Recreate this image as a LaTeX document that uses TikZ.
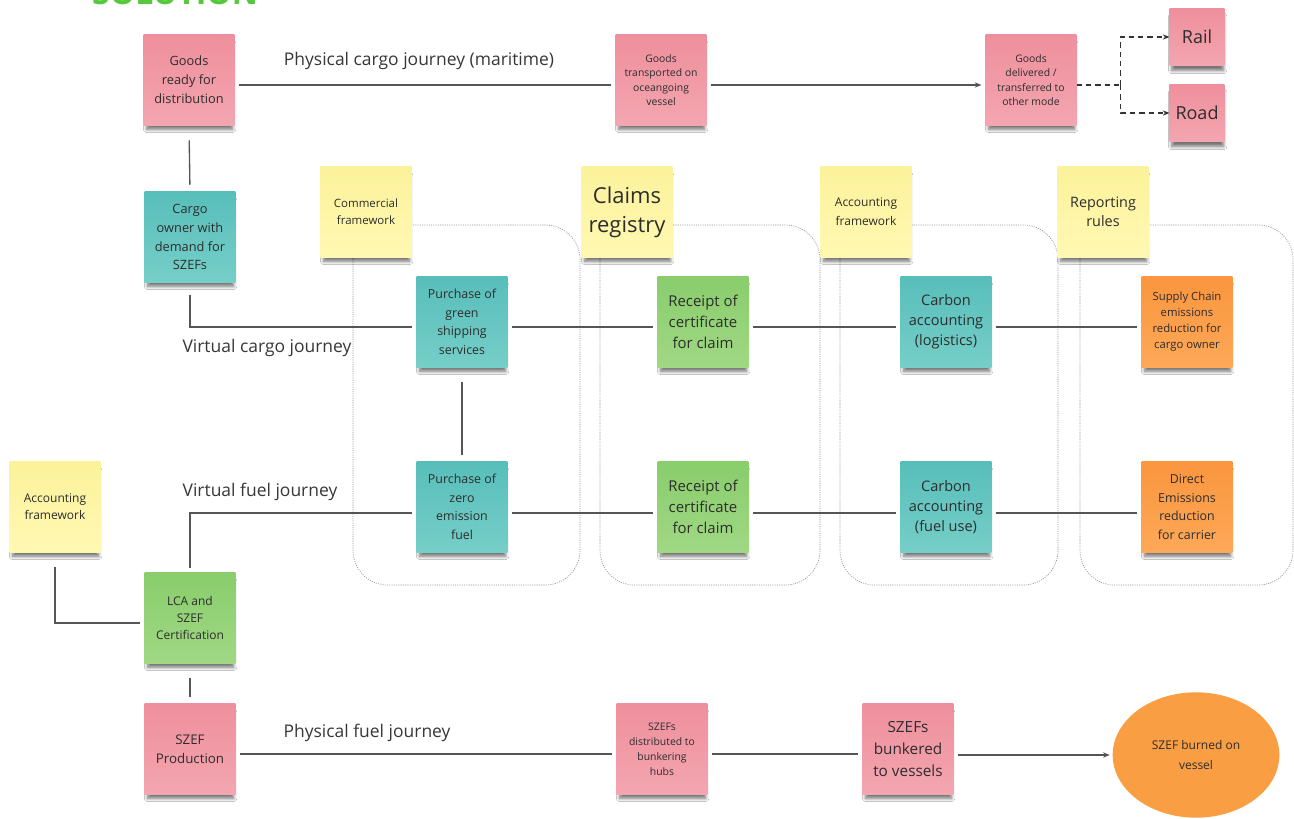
\documentclass[tikz,border=0pt]{standalone}
\usepackage{fontspec}
\setmainfont{Open Sans}
\usetikzlibrary{shadows,shadows.blur,arrows.meta,calc,shapes.geometric}
\definecolor{txt}{RGB}{45,45,45}
\definecolor{lbl}{RGB}{55,55,55}
\definecolor{lineC}{RGB}{85,85,85}
\definecolor{frameC}{RGB}{150,150,150}
\definecolor{pinkT}{RGB}{239,143,157}
\definecolor{pinkB}{RGB}{243,166,176}
\definecolor{tealT}{RGB}{88,190,186}
\definecolor{tealB}{RGB}{118,206,200}
\definecolor{yelT}{RGB}{252,242,155}
\definecolor{yelB}{RGB}{255,248,178}
\definecolor{grnT}{RGB}{137,205,108}
\definecolor{grnB}{RGB}{160,216,132}
\definecolor{orgT}{RGB}{250,150,62}
\definecolor{orgB}{RGB}{253,168,88}
\definecolor{orgE}{RGB}{250,158,68}
\definecolor{solgreen}{RGB}{85,200,60}
\newcommand\fsz[2]{\fontsize{#1}{#2}\selectfont}
\tikzset{
  note/.style={rectangle, minimum width=68pt, minimum height=68pt, inner sep=0pt,
    align=center, text=txt,
    blur shadow={shadow xshift=0.5pt, shadow yshift=-5pt, shadow blur radius=2.5pt,
      shadow opacity=55, shadow scale=0.95, shadow blur steps=6}},
  pinknote/.style={note, top color=pinkT, bottom color=pinkB},
  tealnote/.style={note, top color=tealT, bottom color=tealB},
  yelnote/.style={note, top color=yelT, bottom color=yelB},
  grnnote/.style={note, top color=grnT, bottom color=grnB},
  orgnote/.style={note, top color=orgT, bottom color=orgB},
  smallnote/.style={minimum width=41pt, minimum height=43pt},
  conn/.style={draw=lineC, line width=1pt},
  arr/.style={conn, -{Stealth[length=5pt,width=4pt]}},
  dsh/.style={draw=black!80, line width=1.3pt, dash pattern=on 4pt off 3pt, -{Stealth[length=5pt,width=4pt]}},
  frame/.style={draw=frameC, line width=0.5pt, dash pattern=on 0.8pt off 0.9pt, rounded corners=26pt},
  journey/.style={text=lbl, font=\fsz{13.1}{15}},
}
\begin{document}
\begin{tikzpicture}[x=0.75pt,y=-0.75pt]
\useasboundingbox (0,0) rectangle (1294,818);
\fill[white] (0,0) rectangle (1294,818);

% cut-off title
\node[anchor=base, text=solgreen, font=\bfseries\fsz{24}{28}, inner sep=0pt] (sol) at (175,4) {SOLUTION};

% dotted frames
\draw[frame] (353,225) rectangle (580,585);
\draw[frame] (600,225) rectangle (820,585);
\draw[frame] (840,225) rectangle (1058,585);
\draw[frame] (1080,225) rectangle (1293,585);

% top row
\node[pinknote, font=\fsz{9.6}{14.2}] (gr) at (189,80) {Goods\\ready for\\distribution};
\node[pinknote, font=\fsz{7.8}{10.9}] (gt) at (661,80) {Goods\\transported on\\oceangoing\\vessel};
\node[pinknote, font=\fsz{7.8}{10.9}] (gd) at (1031,80) {Goods\\delivered /\\transferred to\\other mode};
\node[pinknote, smallnote, font=\fsz{13.5}{16}] (rail) at (1197,37) {Rail};
\node[pinknote, smallnote, font=\fsz{13.5}{16}] (road) at (1197,113) {Road};

% left column
\node[tealnote, font=\fsz{9.6}{14.2}] (co) at (190,237) {Cargo\\owner with\\demand for\\SZEFs};
\node[yelnote, font=\fsz{9}{12.8}] (afl) at (55,507) {Accounting\\framework};
\node[grnnote, font=\fsz{9}{13}] (lca) at (190,618) {LCA and\\SZEF\\Certification};
\node[pinknote, font=\fsz{10}{14.2}] (sp) at (190,749) {SZEF\\Production};

% framework notes
\node[yelnote, font=\fsz{8.6}{12.8}] (cf) at (366,212) {Commercial\\framework};
\node[yelnote, font=\fsz{16.5}{21.5}] (cr) at (627,212) {Claims\\registry};
\node[yelnote, font=\fsz{9}{14.2}] (aft) at (866,212) {Accounting\\framework};
\node[yelnote, font=\fsz{10.8}{14.2}] (rr) at (1103,212) {Reporting\\rules};

% virtual cargo row
\node[tealnote, font=\fsz{9.3}{13.9}] (pg) at (462,322) {Purchase of\\green\\shipping\\services};
\node[grnnote, font=\fsz{11.2}{16}] (rc1) at (703,322) {Receipt of\\certificate\\for claim};
\node[tealnote, font=\fsz{10.9}{15}] (cal) at (946,322) {Carbon\\accounting\\(logistics)};
\node[orgnote, font=\fsz{8.5}{12}] (sc) at (1187,322) {Supply Chain\\emissions\\reduction for\\cargo owner};

% virtual fuel row
\node[tealnote, font=\fsz{9.3}{13.9}] (pz) at (462,507) {Purchase of\\zero\\emission\\fuel};
\node[grnnote, font=\fsz{11.2}{16}] (rc2) at (703,507) {Receipt of\\certificate\\for claim};
\node[tealnote, font=\fsz{10.9}{15}] (caf) at (946,507) {Carbon\\accounting\\(fuel use)};
\node[orgnote, font=\fsz{9.3}{14}] (de) at (1187,507) {Direct\\Emissions\\reduction\\for carrier};

% physical fuel row
\node[pinknote, font=\fsz{7.8}{11.3}] (sd) at (662,749) {SZEFs\\distributed to\\bunkering\\hubs};
\node[pinknote, font=\fsz{11.5}{16.8}] (sb) at (908,749) {SZEFs\\bunkered\\to vessels};
\node[ellipse, fill=orgE, minimum width=125pt, minimum height=94pt, inner sep=0pt, align=center, text=txt, font=\fsz{9}{14.5}] (burn) at (1196,755) {SZEF burned on\\vessel};

% journey labels
\node[journey] (l1) at (419,61) {Physical cargo journey (maritime)};
\node[journey] (l2) at (267,348) {Virtual cargo journey};
\node[journey] (l3) at (260,492) {Virtual fuel journey};
\node[journey] (l4) at (367,733) {Physical fuel journey};

% physical cargo journey
\draw[conn, shorten <=3.5pt, shorten >=3pt] ([yshift=-3.75pt]gr.east) -- ([yshift=-3.75pt]gt.west);
\draw[arr, shorten <=3pt, shorten >=3pt] ([yshift=-3.75pt]gt.east) -- ([yshift=-3.75pt]gd.west);
\draw[dsh, -] ([yshift=-3.75pt]gd.east) -- ++(44,0) coordinate (br);
\draw[dsh] (br) |- (rail.west);
\draw[dsh] (br) |- (road.west);

% left column links
\draw[conn, shorten <=11pt, shorten >=5pt] (gr.south) -- (co.north);
\draw[conn, shorten <=9pt, shorten >=3.5pt] (co.south) |- ([yshift=-3.75pt]pg.west);
\draw[conn, shorten <=10.5pt, shorten >=5pt] (pg.south) -- (pz.north);
\draw[conn, shorten <=3.5pt, shorten >=3.5pt] (lca.north) |- ([yshift=-4.5pt]pz.west);
\draw[conn, shorten <=11pt, shorten >=3pt] (afl.south) |- ([yshift=-3.75pt]lca.west);
\draw[conn, shorten <=10.5pt, shorten >=4.5pt] (lca.south) -- (sp.north);

% virtual cargo row
\draw[conn, shorten <=3pt, shorten >=3pt] ([yshift=-3.75pt]pg.east) -- ([yshift=-3.75pt]rc1.west);
\draw[conn, shorten <=3pt, shorten >=3pt] ([yshift=-3.75pt]rc1.east) -- ([yshift=-3.75pt]cal.west);
\draw[conn, shorten <=3pt, shorten >=3pt] ([yshift=-3.75pt]cal.east) -- ([yshift=-3.75pt]sc.west);

% virtual fuel row
\draw[conn, shorten <=3pt, shorten >=3pt] ([yshift=-4.5pt]pz.east) -- ([yshift=-4.5pt]rc2.west);
\draw[conn, shorten <=3pt, shorten >=3pt] ([yshift=-4.5pt]rc2.east) -- ([yshift=-4.5pt]caf.west);
\draw[conn, shorten <=3pt, shorten >=3pt] ([yshift=-4.5pt]caf.east) -- ([yshift=-4.5pt]de.west);

% physical fuel row
\draw[conn, shorten <=3.5pt, shorten >=3pt] ([yshift=-3.75pt]sp.east) -- ([yshift=-3.75pt]sd.west);
\draw[conn, shorten <=3pt, shorten >=3pt] ([yshift=-3.75pt]sd.east) -- ([yshift=-3.75pt]sb.west);
\draw[arr, shorten <=3.5pt, shorten >=2pt] ([yshift=-4.5pt]sb.east) -- (burn.west);
\end{tikzpicture}
\end{document}
